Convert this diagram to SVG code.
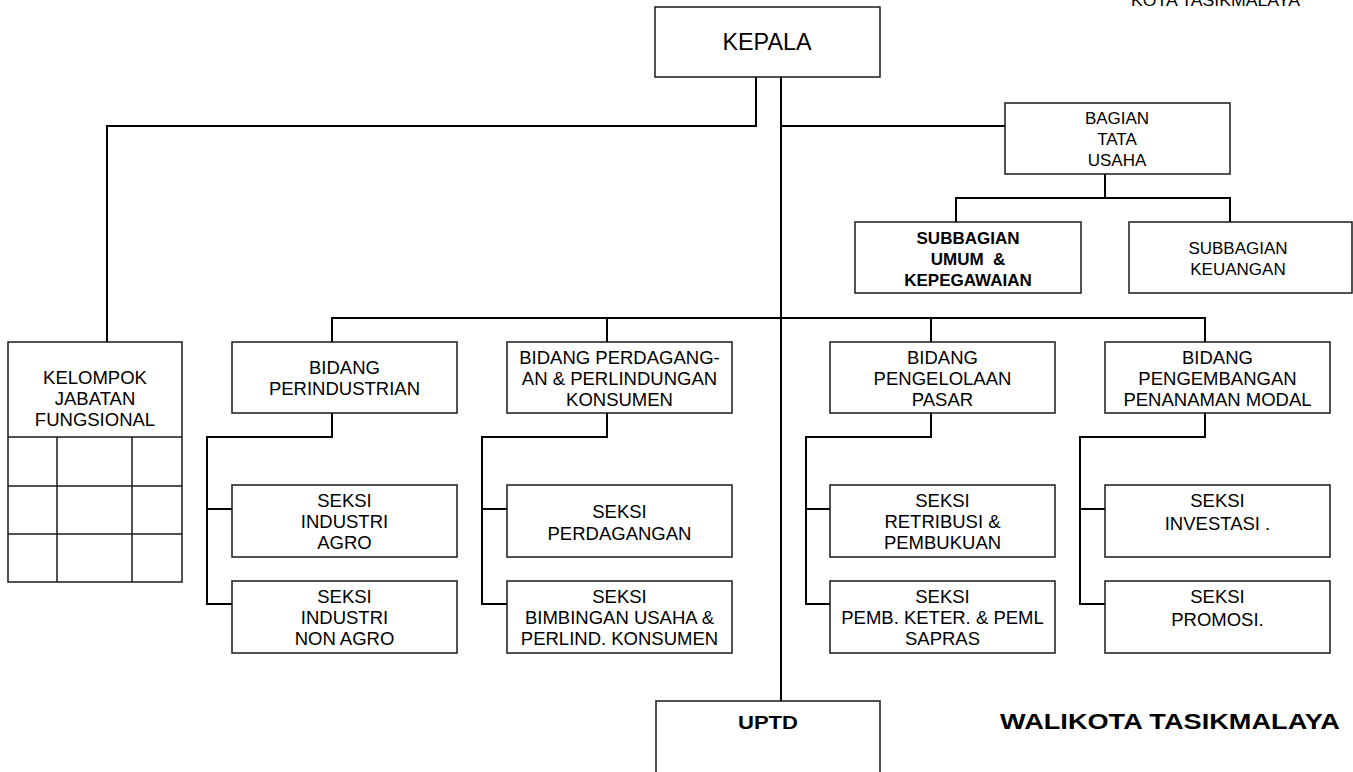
<svg xmlns="http://www.w3.org/2000/svg" width="1353" height="772" viewBox="0 0 1353 772">
<style>
.bg{fill:#ffffff}
.box{fill:#ffffff;stroke:#1a1a1a;stroke-width:1.5}
.ln{fill:none;stroke:#000000;stroke-width:2}
.t{font-family:"Liberation Sans",Arial,sans-serif;font-size:17px;fill:#000;text-anchor:middle}
.m{font-size:18.5px}
.b{font-weight:bold}
.n{font-family:"Liberation Sans",Arial,sans-serif;fill:#000}
</style>
<rect class="bg" x="0" y="0" width="1353" height="772"/>
<g id="connectors">
<path class="ln" d="M756,77 V126 H107 V342"/>
<path class="ln" d="M781,77 V701"/>
<path class="ln" d="M781,126 H1005"/>
<path class="ln" d="M1105,174 V198 M956,222 V198 H1230 V222"/>
<path class="ln" d="M332,342 V318 H1205 V342 M607,318 V342 M931,318 V342"/>
<path class="ln" d="M332,413 V437 H207 V604 H232 M207,509 H232"/>
<path class="ln" d="M607,413 V437 H482 V604 H507 M482,509 H507"/>
<path class="ln" d="M931,413 V437 H806 V604 H830 M806,509 H830"/>
<path class="ln" d="M1205,413 V437 H1080 V604 H1105 M1080,509 H1105"/>
</g>
<text class="n" x="1131" y="6" font-size="17" textLength="169" lengthAdjust="spacingAndGlyphs">KOTA TASIKMALAYA</text>
<g id="kepala"><rect class="box" x="655" y="7" width="225" height="70"/><text class="n" x="767" y="50" font-size="23" text-anchor="middle" textLength="89" lengthAdjust="spacingAndGlyphs">KEPALA</text></g>
<g id="bagian"><rect class="box" x="1005" y="103" width="225" height="71"/><text class="t" x="1117"><tspan x="1117" y="124">BAGIAN</tspan><tspan x="1117" y="145">TATA</tspan><tspan x="1117" y="166">USAHA</tspan></text></g>
<g id="subumum"><rect class="box" x="855" y="222" width="226" height="71"/><text class="t b" x="968"><tspan x="968" y="244">SUBBAGIAN</tspan><tspan x="968" y="265" style="white-space:pre">UMUM  &amp;</tspan><tspan x="968" y="286">KEPEGAWAIAN</tspan></text></g>
<g id="subkeu"><rect class="box" x="1129" y="222" width="223" height="71"/><text class="t" x="1238"><tspan x="1238" y="254">SUBBAGIAN</tspan><tspan x="1238" y="275">KEUANGAN</tspan></text></g>
<g id="kelompok"><rect class="box" x="8" y="342" width="174" height="240"/><path class="box" d="M8,437 H182 M8,486 H182 M8,534 H182 M57,437 V582 M132,437 V582"/><text class="t m" x="95"><tspan x="95" y="384">KELOMPOK</tspan><tspan x="95" y="405">JABATAN</tspan><tspan x="95" y="426">FUNGSIONAL</tspan></text></g>
<g id="bid1"><rect class="box" x="232" y="342" width="225" height="71"/><text class="t m" x="344.5"><tspan x="344.5" y="374">BIDANG</tspan><tspan x="344.5" y="395">PERINDUSTRIAN</tspan></text></g>
<g id="bid2"><rect class="box" x="507" y="342" width="225" height="71"/><text class="t m" x="619.5"><tspan x="619.5" y="364">BIDANG PERDAGANG-</tspan><tspan x="619.5" y="385">AN &amp; PERLINDUNGAN</tspan><tspan x="619.5" y="406">KONSUMEN</tspan></text></g>
<g id="bid3"><rect class="box" x="830" y="342" width="225" height="71"/><text class="t m" x="942.5"><tspan x="942.5" y="364">BIDANG</tspan><tspan x="942.5" y="385">PENGELOLAAN</tspan><tspan x="942.5" y="406">PASAR</tspan></text></g>
<g id="bid4"><rect class="box" x="1105" y="342" width="225" height="71"/><text class="t m" x="1217.5"><tspan x="1217.5" y="364">BIDANG</tspan><tspan x="1217.5" y="385">PENGEMBANGAN</tspan><tspan x="1217.5" y="406">PENANAMAN MODAL</tspan></text></g>
<g id="s11"><rect class="box" x="232" y="485" width="225" height="72"/><text class="t m"><tspan x="344.5" y="507">SEKSI</tspan><tspan x="344.5" y="528">INDUSTRI</tspan><tspan x="344.5" y="549">AGRO</tspan></text></g>
<g id="s12"><rect class="box" x="232" y="581" width="225" height="72"/><text class="t m"><tspan x="344.5" y="603">SEKSI</tspan><tspan x="344.5" y="624">INDUSTRI</tspan><tspan x="344.5" y="645">NON AGRO</tspan></text></g>
<g id="s21"><rect class="box" x="507" y="485" width="225" height="72"/><text class="t m"><tspan x="619.5" y="518">SEKSI</tspan><tspan x="619.5" y="540">PERDAGANGAN</tspan></text></g>
<g id="s22"><rect class="box" x="507" y="581" width="225" height="72"/><text class="t m"><tspan x="619.5" y="603">SEKSI</tspan><tspan x="619.5" y="624">BIMBINGAN USAHA &amp;</tspan><tspan x="619.5" y="645">PERLIND. KONSUMEN</tspan></text></g>
<g id="s31"><rect class="box" x="830" y="485" width="225" height="72"/><text class="t m"><tspan x="942.5" y="507">SEKSI</tspan><tspan x="942.5" y="528">RETRIBUSI &amp;</tspan><tspan x="942.5" y="549">PEMBUKUAN</tspan></text></g>
<g id="s32"><rect class="box" x="830" y="581" width="225" height="72"/><text class="t m"><tspan x="942.5" y="603">SEKSI</tspan><tspan x="942.5" y="624">PEMB. KETER. &amp; PEML</tspan><tspan x="942.5" y="645">SAPRAS</tspan></text></g>
<g id="s41"><rect class="box" x="1105" y="485" width="225" height="72"/><text class="t m"><tspan x="1217.5" y="507">SEKSI</tspan><tspan x="1217.5" y="530">INVESTASI .</tspan></text></g>
<g id="s42"><rect class="box" x="1105" y="581" width="225" height="72"/><text class="t m"><tspan x="1217.5" y="603">SEKSI</tspan><tspan x="1217.5" y="626">PROMOSI.</tspan></text></g>
<g id="uptd"><rect class="box" x="656" y="701" width="224" height="80"/><text class="n b" x="768" y="729" font-size="19" text-anchor="middle" textLength="60" lengthAdjust="spacingAndGlyphs">UPTD</text></g>
<text class="n b" x="1000" y="729" font-size="22" textLength="340" lengthAdjust="spacingAndGlyphs">WALIKOTA TASIKMALAYA</text>
</svg>
